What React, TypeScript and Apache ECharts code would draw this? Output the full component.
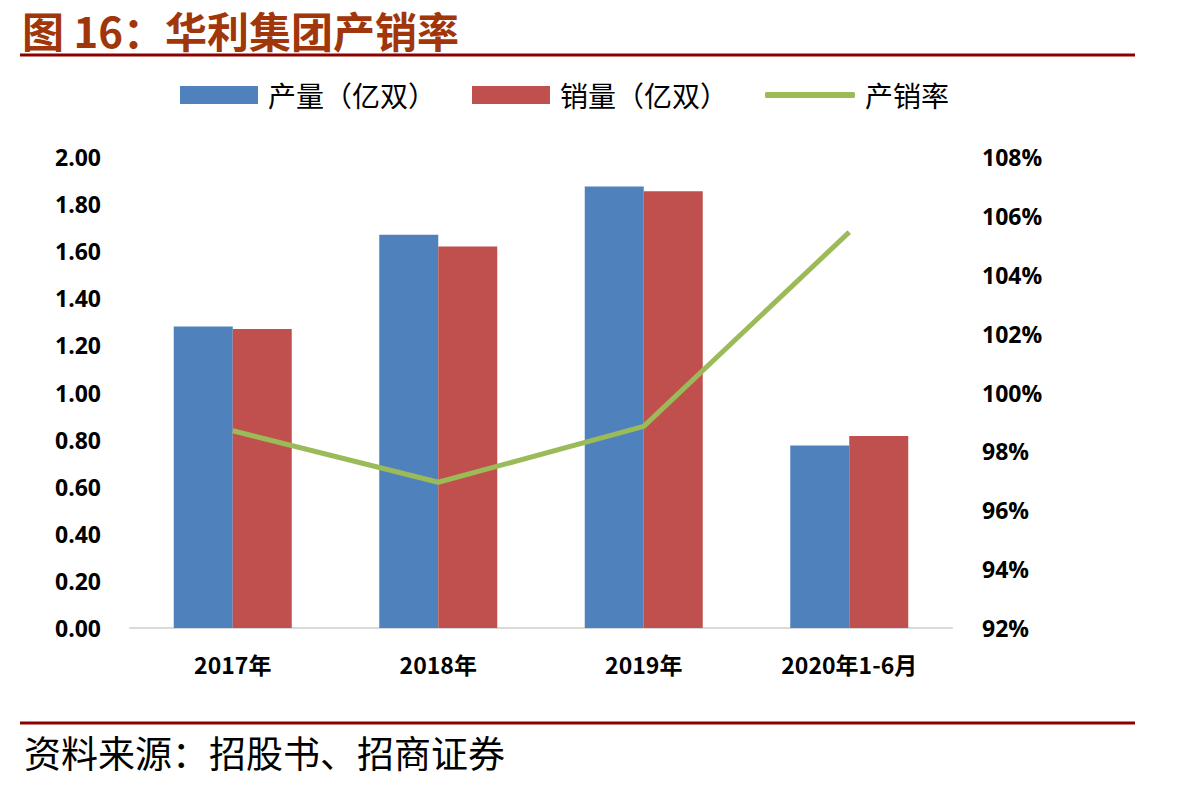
import React, { useEffect, useRef } from "react";
import * as echarts from "echarts";

const categories = ["2017年", "2018年", "2019年", "2020年1-6月"];
const production = [1.28, 1.67, 1.875, 0.775];
const sales = [1.27, 1.62, 1.855, 0.815];
const rate = [98.7, 96.95, 98.85, 105.45];
const leftTicks = { min: 0, max: 2, interval: 0.2 };
const rightTicks = { min: 92, max: 108, interval: 2 };

const title = "图 16：华利集团产销率";
const source = "资料来源：招股书、招商证券";

export default function App() {
  const ref = useRef<HTMLDivElement>(null);
  useEffect(() => {
    const chart = echarts.init(ref.current!, null, { renderer: "svg" });
    const lab = { color: "#000", fontWeight: "bold", fontSize: 23, fontFamily: "Open Sans, Noto Sans CJK SC" };
    const legendText = { fontSize: 28, color: "#000", fontFamily: "Noto Sans CJK SC", padding: [0, 0, 0, 5] };
    chart.setOption({
      animation: false,
      backgroundColor: "#fff",
      grid: { left: 130, right: 228, top: 157, bottom: 158 },
      legend: [
        {
          top: 76,
          left: 175,
          itemWidth: 78,
          itemHeight: 18,
          itemGap: 36,
          textStyle: legendText,
          data: [
            { name: "产量（亿双）", icon: "rect" },
            { name: "销量（亿双）", icon: "rect" },
          ],
        },
        {
          top: 76,
          left: 760,
          itemWidth: 90,
          itemHeight: 6,
          textStyle: legendText,
          data: [{ name: "产销率", icon: "roundRect" }],
        },
      ],
      xAxis: {
        type: "category",
        data: categories,
        axisLine: { lineStyle: { color: "#d9d9d9", width: 2 } },
        axisTick: { show: false },
        axisLabel: { ...lab, fontFamily: "Noto Sans CJK SC", margin: 24 },
      },
      yAxis: [
        {
          type: "value",
          ...leftTicks,
          splitLine: { show: false },
          axisLine: { show: false },
          axisTick: { show: false },
          axisLabel: { ...lab, margin: 29, formatter: (v: number) => v.toFixed(2) },
        },
        {
          type: "value",
          ...rightTicks,
          splitLine: { show: false },
          axisLine: { show: false },
          axisTick: { show: false },
          axisLabel: { ...lab, margin: 30, formatter: (v: number) => v + "%" },
        },
      ],
      series: [
        {
          name: "产量（亿双）",
          type: "bar",
          data: production,
          barWidth: 59,
          barGap: "0%",
          itemStyle: { color: "#4F81BD" },
        },
        {
          name: "销量（亿双）",
          type: "bar",
          data: sales,
          barWidth: 59,
          barGap: "0%",
          itemStyle: { color: "#C0504D" },
        },
        {
          name: "产销率",
          type: "line",
          yAxisIndex: 1,
          data: rate,
          symbol: "none",
          lineStyle: { color: "#9BBB59", width: 5 },
          itemStyle: { color: "#9BBB59" },
        },
      ],
      graphic: [
        {
          type: "text",
          x: 22,
          y: 29,
          style: {
            text: title,
            fill: "#A0360A",
            fontSize: 42,
            lineHeight: 44,
            fontWeight: "bold",
            fontFamily: "Noto Sans CJK SC",
            verticalAlign: "middle",
          },
        },
        {
          type: "line",
          shape: { x1: 20, y1: 55, x2: 1135, y2: 55 },
          style: { stroke: "#8B0000", lineWidth: 3 },
        },
        {
          type: "line",
          shape: { x1: 20, y1: 723, x2: 1135, y2: 723 },
          style: { stroke: "#8B0000", lineWidth: 3 },
        },
        {
          type: "text",
          x: 24,
          y: 752,
          style: {
            text: source,
            fill: "#000",
            fontSize: 37,
            fontFamily: "Noto Sans CJK SC",
            verticalAlign: "middle",
          },
        },
      ],
    });
    return () => chart.dispose();
  }, []);
  return <div ref={ref} style={{ position: "fixed", left: 0, top: 0, width: 1180, height: 786 }} />;
}
